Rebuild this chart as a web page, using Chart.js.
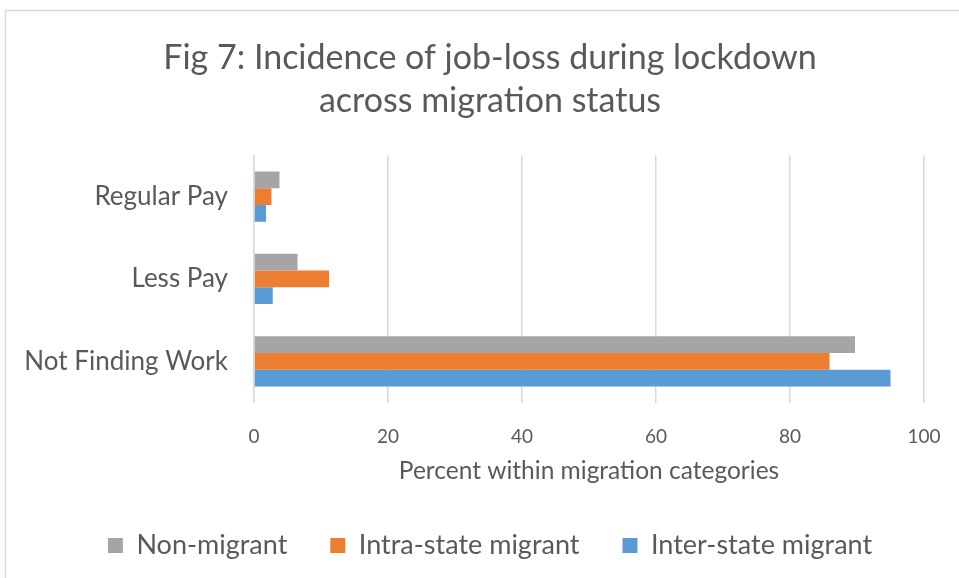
<!DOCTYPE html>
<html>
<head>
<meta charset="utf-8">
<script src="https://cdn.jsdelivr.net/npm/chart.js@4/dist/chart.umd.min.js"></script>
<style>
html,body{margin:0;padding:0;background:#fff;overflow:hidden;}
#wrap{position:relative;width:959px;height:578px;overflow:hidden;}
</style>
</head>
<body>
<div id="wrap"><canvas id="c" width="980" height="578"></canvas></div>
<script>
const categories = ['Regular Pay', 'Less Pay', 'Not Finding Work'];
const seriesNames = ['Non-migrant', 'Intra-state migrant', 'Inter-state migrant'];
const nonMigrant = [3.8, 6.5, 89.7];
const intraState = [2.6, 11.2, 85.9];
const interState = [1.8, 2.8, 95.0];
const xTicks = [0, 20, 40, 60, 80, 100];
const titleLines = ['Fig 7: Incidence of job-loss during lockdown', 'across migration status'];
const xTitle = 'Percent within migration categories';

const FONT = 'Lato, "Liberation Sans", sans-serif';
const TXT = '#595959';

const borderPlugin = {
  id: 'borderPlugin',
  beforeDraw(chart) {
    const ctx = chart.ctx;
    ctx.save();
    ctx.fillStyle = '#fff';
    ctx.fillRect(0, 0, chart.width, chart.height);
    ctx.strokeStyle = '#d9d9d9';
    ctx.lineWidth = 1.5;
    ctx.strokeRect(5.5, 10.5, 1200, 1200);
    ctx.restore();
  }
};

new Chart(document.getElementById('c'), {
  type: 'bar',
  data: {
    labels: categories,
    datasets: [
      { label: seriesNames[0], data: nonMigrant, backgroundColor: '#A5A5A5' },
      { label: seriesNames[1], data: intraState, backgroundColor: '#ED7D31' },
      { label: seriesNames[2], data: interState, backgroundColor: '#5B9BD5' }
    ]
  },
  options: {
    indexAxis: 'y',
    responsive: false,
    animation: false,
    devicePixelRatio: 1,
    datasets: { bar: { barPercentage: 1.0, categoryPercentage: 0.61 } },
    layout: { padding: { left: 0, right: 0, top: 36, bottom: 9 } },
    scales: {
      x: {
        min: 0, max: 100,
        afterBuildTicks(scale) { scale.ticks = xTicks.map(v => ({ value: v })); },
        grid: { color: '#d9d9d9', lineWidth: 1.5, drawTicks: false },
        border: { display: false },
        ticks: { color: TXT, font: { family: FONT, size: 19 }, padding: 22.6 },
        title: { display: true, text: xTitle, color: TXT, font: { family: FONT, size: 24.5 }, padding: { top: -14, bottom: 3 } }
      },
      y: {
        grid: { display: false, drawTicks: false },
        border: { display: true, color: '#d9d9d9', width: 1.5 },
        ticks: { color: TXT, font: { family: FONT, size: 26 }, padding: 26 },
        afterFit(scale) { scale.width = 254; }
      },
      y2: {
        type: 'linear', position: 'right', display: true,
        grid: { display: false, drawTicks: false },
        border: { display: false },
        ticks: { display: false },
        afterFit(scale) { scale.width = 56; }
      }
    },
    plugins: {
      title: {
        display: true, text: titleLines, color: TXT,
        font: { family: FONT, size: 34, weight: 'normal', lineHeight: 1.27 },
        padding: { top: 0, bottom: 33 }
      },
      legend: {
        display: true, position: 'bottom',
        labels: { color: TXT, font: { family: FONT, size: 27 }, boxWidth: 15, boxHeight: 15, padding: 43 }
      },
      tooltip: { enabled: false }
    }
  },
  plugins: [borderPlugin]
});
</script>
</body>
</html>
